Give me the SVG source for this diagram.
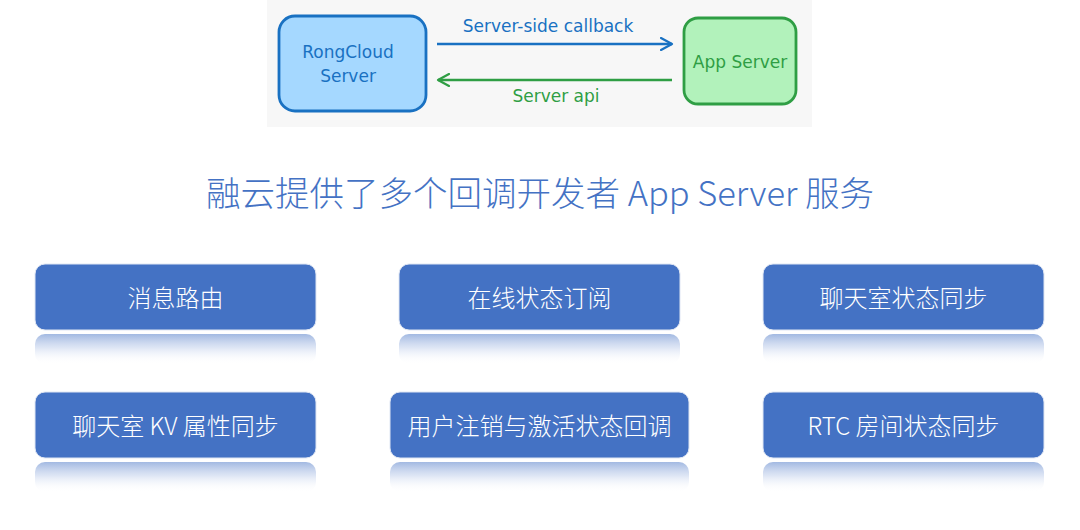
<svg xmlns="http://www.w3.org/2000/svg" width="1080" height="530" viewBox="0 0 1080 530">
<defs>
<style>
.hand{font-family:"DejaVu Sans","Liberation Sans",sans-serif;font-size:17px;text-anchor:middle;}
.title{font-family:"Noto Sans CJK SC","Noto Sans",sans-serif;font-size:34.5px;font-weight:300;fill:#4472c4;text-anchor:middle;}
.box{fill:#4472c4;stroke:#dfe6f3;stroke-width:1;}
.lbl{font-family:"Noto Sans CJK SC","Noto Sans",sans-serif;font-size:24px;font-weight:300;fill:#ffffff;text-anchor:middle;dominant-baseline:central;}
.refl{fill:url(#rg);}
</style>
<linearGradient id="rg" x1="0" y1="0" x2="0" y2="1">
<stop offset="0" stop-color="#4472c4" stop-opacity="0.5"/>
<stop offset="0.45" stop-color="#8ea8dc" stop-opacity="0.3"/>
<stop offset="1" stop-color="#ffffff" stop-opacity="0"/>
</linearGradient>
<marker id="ab" viewBox="0 0 14 14" refX="12" refY="7" markerWidth="14" markerHeight="14" markerUnits="userSpaceOnUse" orient="auto">
<path d="M1,1 L12,7 L1,13" fill="none" stroke="#1971c2" stroke-width="2.2" stroke-linecap="round" stroke-linejoin="round"/>
</marker>
<marker id="ag" viewBox="0 0 14 14" refX="12" refY="7" markerWidth="14" markerHeight="14" markerUnits="userSpaceOnUse" orient="auto">
<path d="M1,1 L12,7 L1,13" fill="none" stroke="#2f9e44" stroke-width="2.2" stroke-linecap="round" stroke-linejoin="round"/>
</marker>
</defs>
<rect width="1080" height="530" fill="#ffffff"/>
<rect x="267" y="0" width="545" height="127" fill="#f7f7f7"/>
<g id="rongcloud">
<rect x="279" y="16" width="147" height="95" rx="16" fill="#a5d8ff" stroke="#1971c2" stroke-width="2.8"/>
<text class="hand" x="348" y="58" fill="#1971c2">RongCloud</text>
<text class="hand" x="348" y="82" fill="#1971c2">Server</text>
</g>
<g id="appserver">
<rect x="684" y="18" width="112" height="86" rx="14" fill="#b2f2bb" stroke="#2f9e44" stroke-width="2.8"/>
<text class="hand" x="740" y="68" fill="#2f9e44">App Server</text>
</g>
<g id="connectors">
<line x1="437" y1="44" x2="672" y2="44" stroke="#1971c2" stroke-width="2.5" marker-end="url(#ab)"/>
<text class="hand" x="548" y="32" fill="#1971c2">Server-side callback</text>
<line x1="672" y1="80" x2="438" y2="80" stroke="#2f9e44" stroke-width="2.5" marker-end="url(#ag)"/>
<text class="hand" x="556" y="102" fill="#2f9e44">Server api</text>
</g>
<text class="title" x="540" y="206">融云提供了多个回调开发者 App Server 服务</text>
<g id="n1">
<rect class="refl" x="35" y="334" width="281" height="30" rx="10"/>
<rect class="box" x="35" y="264" width="281" height="66" rx="10"/>
<text class="lbl" x="175.5" y="296">消息路由</text>
</g>
<g id="n2">
<rect class="refl" x="399" y="334" width="281" height="30" rx="10"/>
<rect class="box" x="399" y="264" width="281" height="66" rx="10"/>
<text class="lbl" x="539.5" y="296">在线状态订阅</text>
</g>
<g id="n3">
<rect class="refl" x="763" y="334" width="281" height="30" rx="10"/>
<rect class="box" x="763" y="264" width="281" height="66" rx="10"/>
<text class="lbl" x="903.5" y="296">聊天室状态同步</text>
</g>
<g id="n4">
<rect class="refl" x="35" y="462" width="281" height="30" rx="10"/>
<rect class="box" x="35" y="392" width="281" height="66" rx="10"/>
<text class="lbl" x="175.5" y="424">聊天室 KV 属性同步</text>
</g>
<g id="n5">
<rect class="refl" x="390" y="462" width="299" height="30" rx="10"/>
<rect class="box" x="390" y="392" width="299" height="66" rx="10"/>
<text class="lbl" x="539.5" y="424">用户注销与激活状态回调</text>
</g>
<g id="n6">
<rect class="refl" x="763" y="462" width="281" height="30" rx="10"/>
<rect class="box" x="763" y="392" width="281" height="66" rx="10"/>
<text class="lbl" x="903.5" y="424">RTC 房间状态同步</text>
</g>
</svg>
